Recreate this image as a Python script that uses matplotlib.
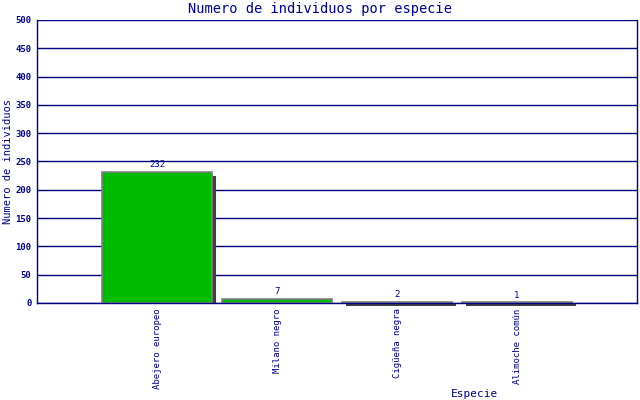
import matplotlib
matplotlib.use("Agg")
import matplotlib.pyplot as plt
import matplotlib.transforms as mtransforms

especies = ["Abejero europeo", "Milano negro", "Cigüeña negra", "Alimoche común"]
individuos = [232, 7, 2, 1]
yticks = list(range(0, 501, 50))

navy = "#000080"
plt.rcParams["font.family"] = ["DejaVu Sans Mono"]

fig = plt.figure(figsize=(6.4, 4.0), dpi=100)
ax_h_px = 283
ax = fig.add_axes([37 / 640, 97 / 400, 600 / 640, ax_h_px / 400])
ymax = 500

pos = list(range(len(especies)))

# sombra: desplazada 4px a la derecha, la parte de arriba baja 4px
# y la base se queda en el eje (asi las barras pequenas dejan una franja debajo)
sh_px = 4
sh_dy = ymax * sh_px / ax_h_px
sombra = [v - sh_dy for v in individuos]
shift = mtransforms.ScaledTranslation(sh_px / 100, 0, fig.dpi_scale_trans)
ax.bar(pos, sombra, width=0.92, color="#404040", zorder=2,
       transform=ax.transData + shift, clip_on=False)
ax.bar(pos, individuos, width=0.92, color="#00bb00", edgecolor="#808080",
       linewidth=1.2, zorder=3)

for x, v in zip(pos, individuos):
    ax.text(x, v + 5, str(v), ha="center", va="bottom", fontsize=6.5,
            color=navy, zorder=4)

ax.set_xlim(-1, 4)
ax.set_ylim(0, ymax)
ax.set_yticks(yticks)
ax.set_yticklabels([str(t) for t in yticks], fontsize=6.5, color=navy,
                   fontweight="bold")
ax.set_xticks(pos)
ax.set_xticklabels(especies, rotation=90, fontsize=6.5, color=navy)
ax.tick_params(axis="y", length=0, pad=4)
ax.tick_params(axis="x", length=0, pad=4)
ax.grid(axis="y", color=navy, linewidth=1, zorder=1)
ax.set_axisbelow(True)

for side in ["left", "bottom", "right"]:
    ax.spines[side].set_color(navy)
    ax.spines[side].set_linewidth(1)
    ax.spines[side].set_zorder(5)
ax.spines["top"].set_visible(False)

fig.text(0.5, 0.995, "Numero de individuos por especie", ha="center",
         va="top", fontsize=9.8, color=navy)
fig.text(0.013, 0.5975, "Numero de individuos", rotation=90, ha="center",
         va="center", fontsize=7.5, color=navy)
fig.text(474 / 640, 0.003, "Especie", ha="center", va="bottom",
         fontsize=8, color=navy)

fig.savefig("out.png", dpi=100)
